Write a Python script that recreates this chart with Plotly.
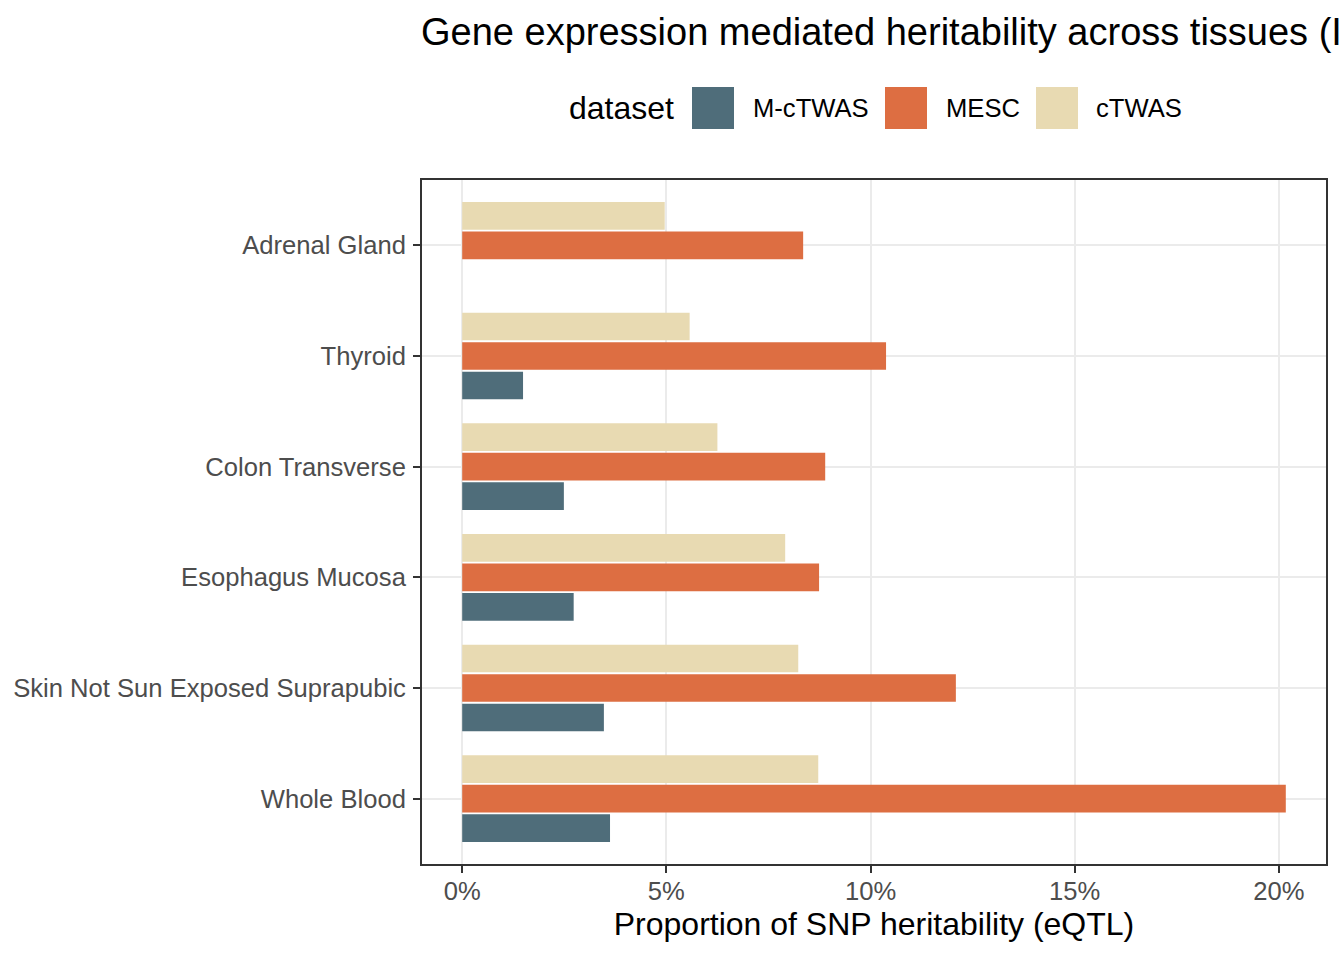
import plotly.graph_objects as go

# ---- data ----
tissues = ["Adrenal Gland", "Thyroid", "Colon Transverse", "Esophagus Mucosa",
           "Skin Not Sun Exposed Suprapubic", "Whole Blood"]
datasets = ["M-cTWAS", "MESC", "cTWAS"]
m_ctwas = [None, 0.0149, 0.0249, 0.0273, 0.0347, 0.0362]
mesc = [0.0835, 0.1038, 0.0889, 0.0874, 0.1209, 0.2017]
ctwas = [0.0496, 0.0557, 0.0625, 0.0791, 0.0823, 0.0872]
x_ticks = [0, 0.05, 0.10, 0.15, 0.20]
x_ticklabels = ["0%", "5%", "10%", "15%", "20%"]

colors = ["#4F6D7A", "#DD6E42", "#E8DAB2"]
values = [m_ctwas, mesc, ctwas]

W, H = 1344, 960
L, R, T, B = 421, 1327, 179, 865  # panel box in px
FONT = "Liberation Sans, Arial, Helvetica, sans-serif"

fig = go.Figure()
for name, vals, col in zip(datasets, values, colors):
    fig.add_trace(go.Bar(
        y=tissues, x=vals, name=name, orientation="h",
        marker=dict(color=col, line=dict(width=0)),
        showlegend=False,
    ))

def px_x(p):
    return (p - L) / (R - L)

def px_y(p):
    return (B - p) / (B - T)

shapes = []
annotations = []

# manual legend (ggplot style)
key_x = [692, 885, 1036]
label_x = [751, 944, 1094]
key_size = 42
ly = 108
annotations.append(dict(
    text="dataset", x=px_x(567), y=px_y(ly), xref="paper", yref="paper",
    xanchor="left", yanchor="middle", showarrow=False,
    font=dict(family=FONT, size=32, color="#000000")))
for name, col, kx, lx in zip(datasets, colors, key_x, label_x):
    shapes.append(dict(
        type="rect", xref="paper", yref="paper",
        x0=px_x(kx), x1=px_x(kx + key_size),
        y0=px_y(ly + key_size / 2), y1=px_y(ly - key_size / 2),
        fillcolor=col, line=dict(width=0)))
    annotations.append(dict(
        text=name, x=px_x(lx), y=px_y(ly), xref="paper", yref="paper",
        xanchor="left", yanchor="middle", showarrow=False,
        font=dict(family=FONT, size=25.6, color="#000000")))

# panel border
shapes.append(dict(type="rect", xref="paper", yref="paper", x0=0, x1=1, y0=0, y1=1,
                   line=dict(color="#333333", width=2), layer="above"))

fig.update_layout(
    width=W, height=H,
    margin=dict(l=L, r=W - R, t=T, b=H - B, pad=0),
    paper_bgcolor="white", plot_bgcolor="white",
    barmode="group", bargap=0.2, bargroupgap=0.0625,
    font=dict(family=FONT, color="#000000"),
    title=dict(
        text="Gene expression mediated heritability across tissues (IBD)",
        x=0, xref="paper", xanchor="left",
        y=1 - 32 / H, yref="container", yanchor="middle",
        font=dict(family=FONT, size=38, color="#000000")),
    shapes=shapes,
    annotations=annotations,
    xaxis=dict(
        range=[-0.01009, 0.21179],
        tickvals=x_ticks, ticktext=x_ticklabels,
        showgrid=True, gridcolor="#EBEBEB", gridwidth=2,
        zeroline=False, showline=False,
        ticks="outside", ticklen=7, tickwidth=2, tickcolor="#333333",
        tickfont=dict(family=FONT, size=25.6, color="#4D4D4D"),
        ticklabelstandoff=-4,
        title=dict(text="Proportion of SNP heritability (eQTL)",
                   font=dict(family=FONT, size=32, color="#000000"), standoff=8),
    ),
    yaxis=dict(
        type="category",
        categoryorder="array", categoryarray=tissues[::-1],
        range=[-0.6, 5.6],
        showgrid=True, gridcolor="#EBEBEB", gridwidth=2,
        zeroline=False, showline=False,
        ticks="outside", ticklen=7, tickwidth=2, tickcolor="#333333",
        tickfont=dict(family=FONT, size=25.6, color="#4D4D4D"),
        ticklabelstandoff=2,
    ),
)

fig.write_html(
    "out.html",
    config={"displayModeBar": False},
    post_script="document.body.style.margin='0';document.body.style.overflow='hidden';",
)
